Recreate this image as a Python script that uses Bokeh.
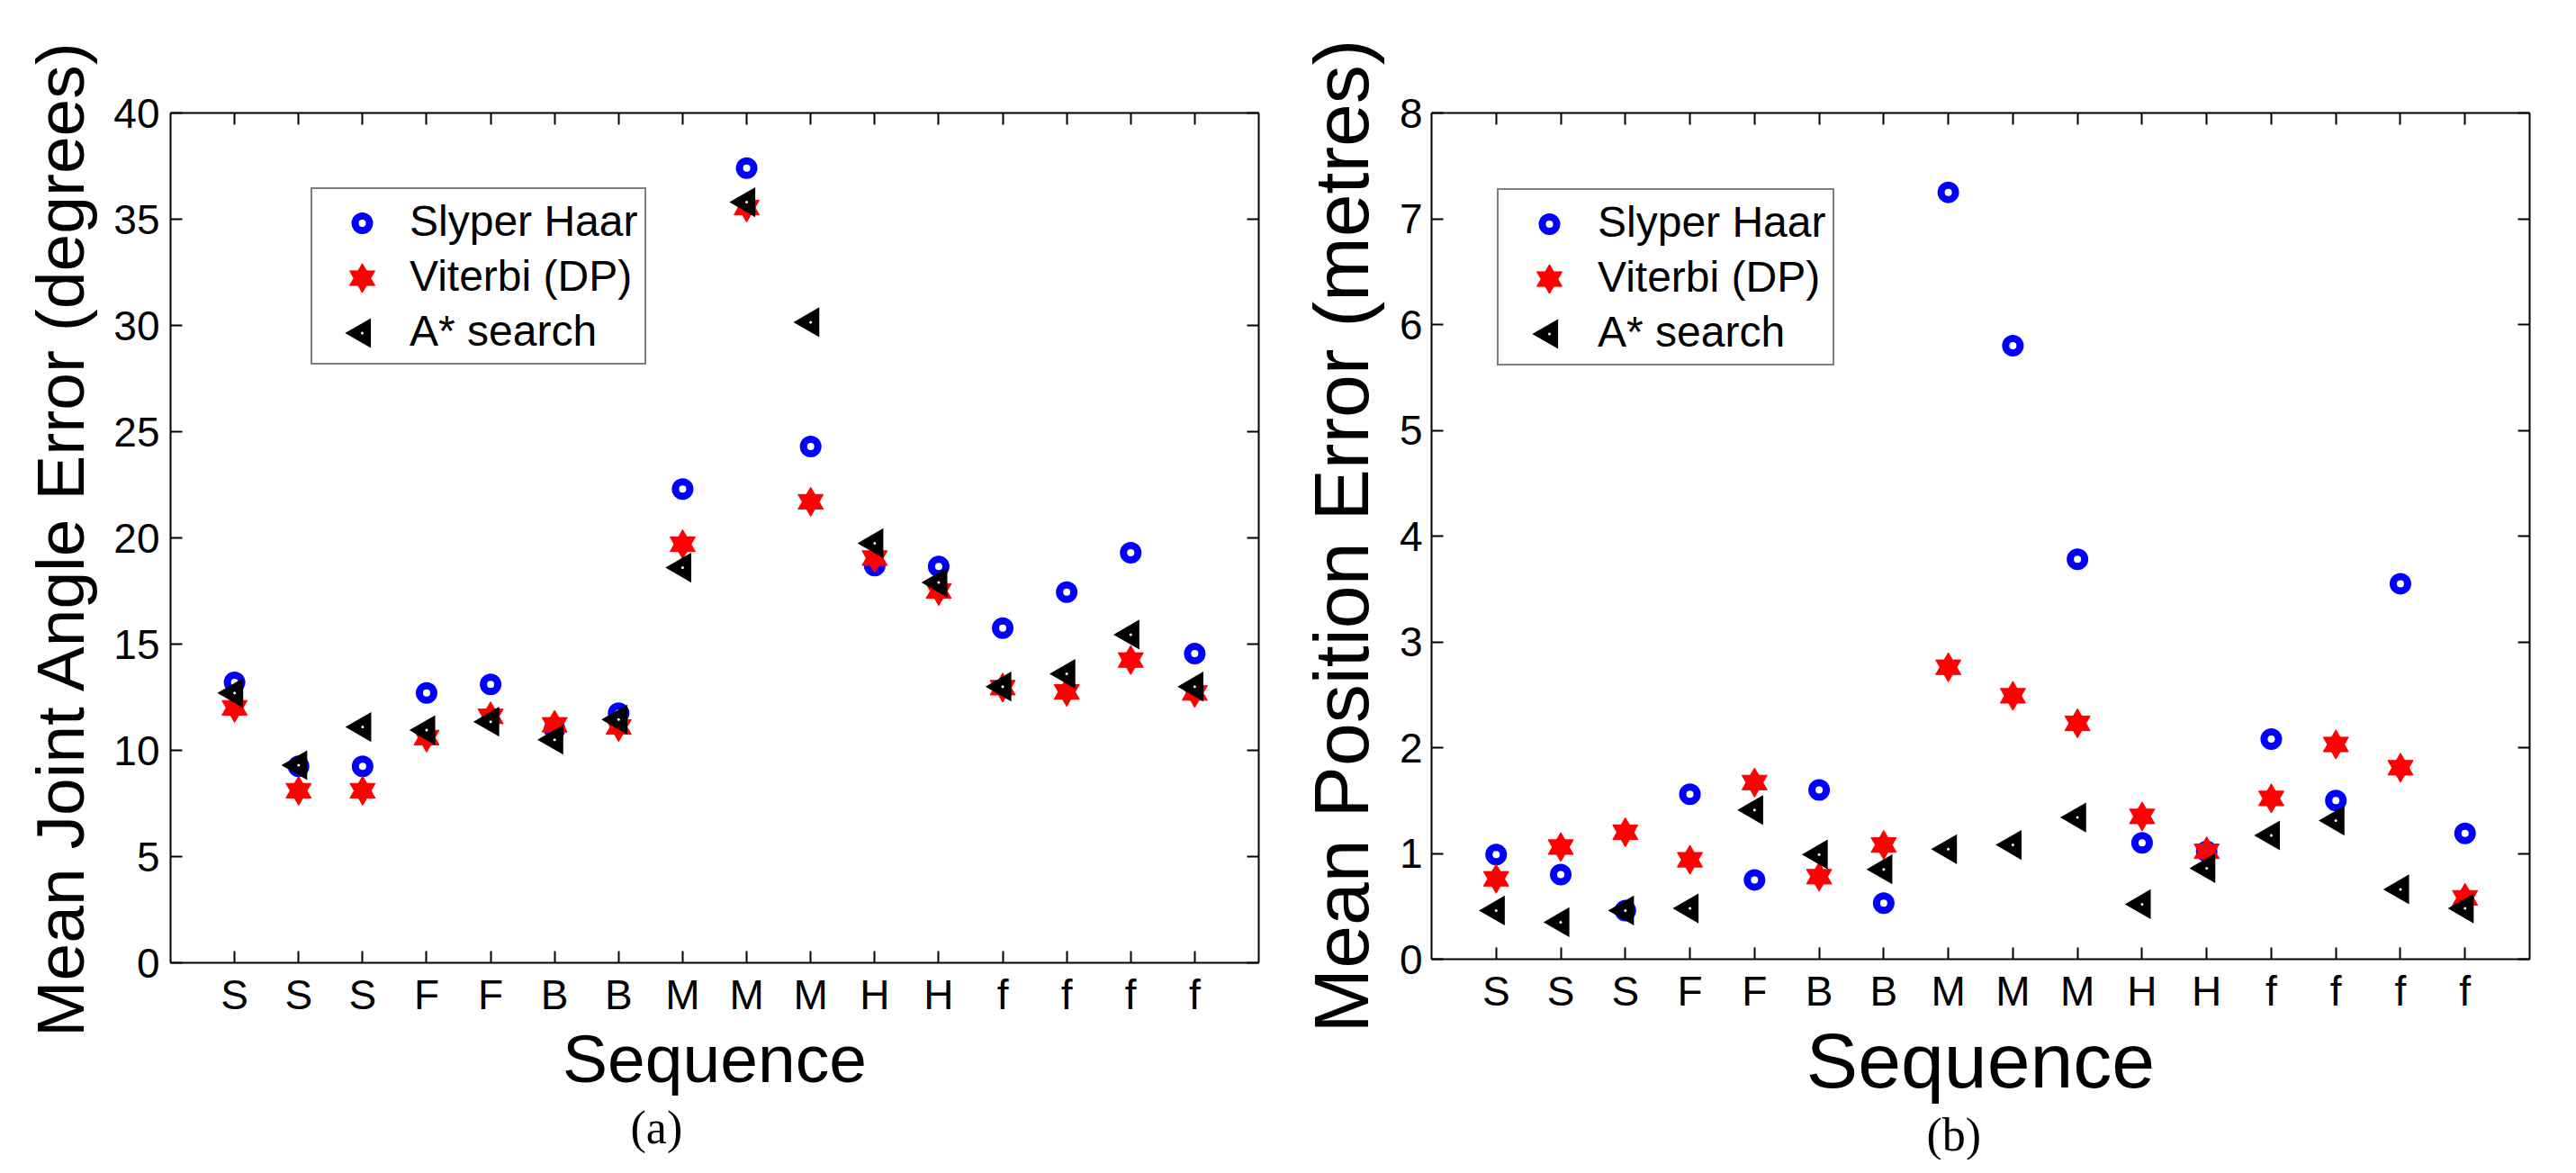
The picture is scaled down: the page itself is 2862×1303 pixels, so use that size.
from math import pi
from bokeh.plotting import figure
from bokeh.layouts import row
from bokeh.models import (FixedTicker, LinearAxis, Range1d, Legend, LegendItem, Title)
from bokeh.embed import file_html
from bokeh.resources import INLINE

# ---------------- data ----------------
categories = ["S", "S", "S", "F", "F", "B", "B", "M", "M", "M", "H", "H", "f", "f", "f", "f"]
x_pos = list(range(1, 17))
series_names = ["Slyper Haar", "Viterbi (DP)", "A* search"]

# (a) Mean joint angle error (degrees)
angle_haar = [13.2, 9.25, 9.25, 12.7, 13.1, 11.0, 11.75, 22.3, 37.4, 24.3, 18.7, 18.65, 15.75, 17.45, 19.3, 14.55]
angle_viterbi = [12.0, 8.1, 8.1, 10.6, 11.6, 11.2, 11.1, 19.7, 35.55, 21.7, 19.05, 17.5, 12.95, 12.75, 14.25, 12.7]
angle_astar = [12.7, 9.3, 11.1, 10.95, 11.35, 10.5, 11.45, 18.6, 35.8, 30.15, 19.75, 17.9, 13.0, 13.6, 15.45, 13.0]
angle_ticks = [0, 5, 10, 15, 20, 25, 30, 35, 40]

# (b) Mean position error (metres)
pos_haar = [0.99, 0.80, 0.46, 1.56, 0.75, 1.60, 0.53, 7.25, 5.80, 3.78, 1.10, 1.02, 2.08, 1.50, 3.55, 1.19]
pos_viterbi = [0.76, 1.06, 1.20, 0.94, 1.67, 0.78, 1.08, 2.76, 2.49, 2.23, 1.35, 1.02, 1.52, 2.03, 1.81, 0.58]
pos_astar = [0.46, 0.35, 0.46, 0.48, 1.41, 0.99, 0.85, 1.04, 1.08, 1.34, 0.52, 0.86, 1.17, 1.31, 0.66, 0.48]
pos_ticks = [0, 1, 2, 3, 4, 5, 6, 7, 8]

FONT = "Liberation Sans"

# legend geometry (pixels)
LEG_PAD, LEG_ROW, LEG_SPACING = 8, 55, 6


def draw_series(p, xs, haar, viterbi, astar):
    """Draw the three marker styles; returns renderers."""
    r_h = p.scatter(xs, haar, marker="circle", size=16, fill_color=None,
                    line_color="#0000FF", line_width=8)
    r_v1 = p.scatter(xs, viterbi, marker="triangle", size=28, fill_color="#FF0000",
                     line_color="#FF0000", line_width=1)
    r_v2 = p.scatter(xs, viterbi, marker="inverted_triangle", size=28, fill_color="#FF0000",
                     line_color="#FF0000", line_width=1)
    r_a = p.scatter(xs, astar, marker="triangle", size=28, angle=pi / 2,
                    fill_color="black", line_color="black", line_width=3, line_join="miter")
    r_ad = p.scatter(xs, astar, marker="circle", size=3, fill_color="white", line_color=None)
    return r_h, (r_v1, r_v2), (r_a, r_ad)


def make_panel(haar, viterbi, astar, yticks, ymax, ylabel, caption, cfg):
    p = figure(frame_width=cfg["fw"], frame_height=cfg["fh"],
               x_range=Range1d(0, 17), y_range=Range1d(0, ymax),
               output_backend="svg", toolbar_location=None,
               min_border_left=cfg["bl"], min_border_right=cfg["br"],
               min_border_top=cfg["bt"], min_border_bottom=cfg["bb"])
    p.xgrid.visible = False
    p.ygrid.visible = False
    p.outline_line_color = None
    p.background_fill_color = "white"
    p.border_fill_color = "white"

    xt = FixedTicker(ticks=x_pos)
    yt = FixedTicker(ticks=yticks)
    p.xaxis.ticker = xt
    p.yaxis.ticker = yt
    p.xaxis.major_label_overrides = {i: c for i, c in zip(x_pos, categories)}

    for ax in (p.xaxis[0], p.yaxis[0]):
        ax.major_tick_in = 13
        ax.major_tick_out = 0
        ax.major_tick_line_width = 2
        ax.minor_tick_line_color = None
        ax.axis_line_width = 2
        ax.axis_line_color = "black"
        ax.major_tick_line_color = "black"
        ax.major_label_text_font = FONT
        ax.major_label_text_font_size = "46px"
        ax.major_label_text_color = "black"
        ax.axis_label_text_font = FONT
        ax.axis_label_text_font_style = "normal"
        ax.axis_label_text_color = "black"
        ax.axis_label_text_font_size = cfg["label_size"]

    p.yaxis.axis_label = ylabel
    p.xaxis.axis_label = "Sequence"
    p.yaxis.major_label_standoff = cfg["ytick_standoff"]
    p.yaxis.axis_label_standoff = cfg["ylabel_standoff"]
    p.xaxis.major_label_standoff = 9
    p.xaxis.axis_label_standoff = 0

    # mirrored axes (ticks only) on top and right
    for side, tk in (("above", xt), ("right", yt)):
        ax = LinearAxis(ticker=tk)
        ax.major_tick_in = 13
        ax.major_tick_out = 0
        ax.major_tick_line_width = 2
        ax.minor_tick_line_color = None
        ax.axis_line_width = 2
        ax.axis_line_color = "black"
        ax.major_label_text_font_size = "0px"
        ax.major_label_standoff = 0
        p.add_layout(ax, side)

    # data markers
    draw_series(p, x_pos, haar, viterbi, astar)

    # invisible stand-ins: the legend box only carries the labels and frame
    stand_ins = [p.scatter(x_pos, haar, size=1, fill_alpha=0, line_alpha=0) for _ in range(3)]
    legend = Legend(items=[LegendItem(label=n, renderers=[r]) for n, r in zip(series_names, stand_ins)],
                    location=cfg["leg_loc"])
    legend.border_line_color = "black"
    legend.border_line_width = 2
    legend.background_fill_alpha = 0.0   # transparent so the key markers below show through
    legend.padding = LEG_PAD
    legend.spacing = LEG_SPACING
    legend.margin = 0
    legend.glyph_width = cfg["glyph_w"]
    legend.glyph_height = LEG_ROW
    legend.label_height = LEG_ROW
    legend.label_standoff = 2
    legend.label_text_font = FONT
    legend.label_text_font_size = "48px"
    legend.label_text_color = "black"
    legend.label_text_baseline = "middle"
    p.add_layout(legend)

    # legend keys drawn with the very same marker styles, placed at the key slots
    lx, ly = cfg["leg_loc"]
    leg_h = 2 * LEG_PAD + 3 * LEG_ROW + 2 * LEG_SPACING
    key_px = lx + LEG_PAD + cfg["glyph_w"] / 2
    key_py = [ly + leg_h - LEG_PAD - LEG_ROW / 2 - k * (LEG_ROW + LEG_SPACING) for k in range(3)]
    kx = key_px / cfg["fw"] * 17
    ky = [v / cfg["fh"] * ymax for v in key_py]
    draw_series(p, [kx], [ky[0]], [ky[1]], [ky[2]])

    cap = Title(text=caption, align="left", offset=cfg["cap_off"],
                text_font="Liberation Serif", text_font_size="52px",
                text_font_style="normal", text_color="black", standoff=2)
    p.add_layout(cap, "below")
    return p


cfg_a = dict(fw=1209, fh=944, bl=189, br=17, bt=125, bb=212,
             label_size="75px", ytick_standoff=12, ylabel_standoff=14,
             leg_loc=(156, 664), glyph_w=98, cap_off=511)
cfg_b = dict(fw=1220, fh=940, bl=175, br=20, bt=122, bb=226,
             label_size="86px", ytick_standoff=10, ylabel_standoff=14,
             leg_loc=(73, 659), glyph_w=100, cap_off=550)

pa = make_panel(angle_haar, angle_viterbi, angle_astar, angle_ticks, 40,
                "Mean Joint Angle Error (degrees)", "(a)", cfg_a)
pb = make_panel(pos_haar, pos_viterbi, pos_astar, pos_ticks, 8,
                "Mean Position Error (metres)", "(b)", cfg_b)

layout = row(pa, pb)
open("out.html", "w").write(file_html(layout, INLINE))
